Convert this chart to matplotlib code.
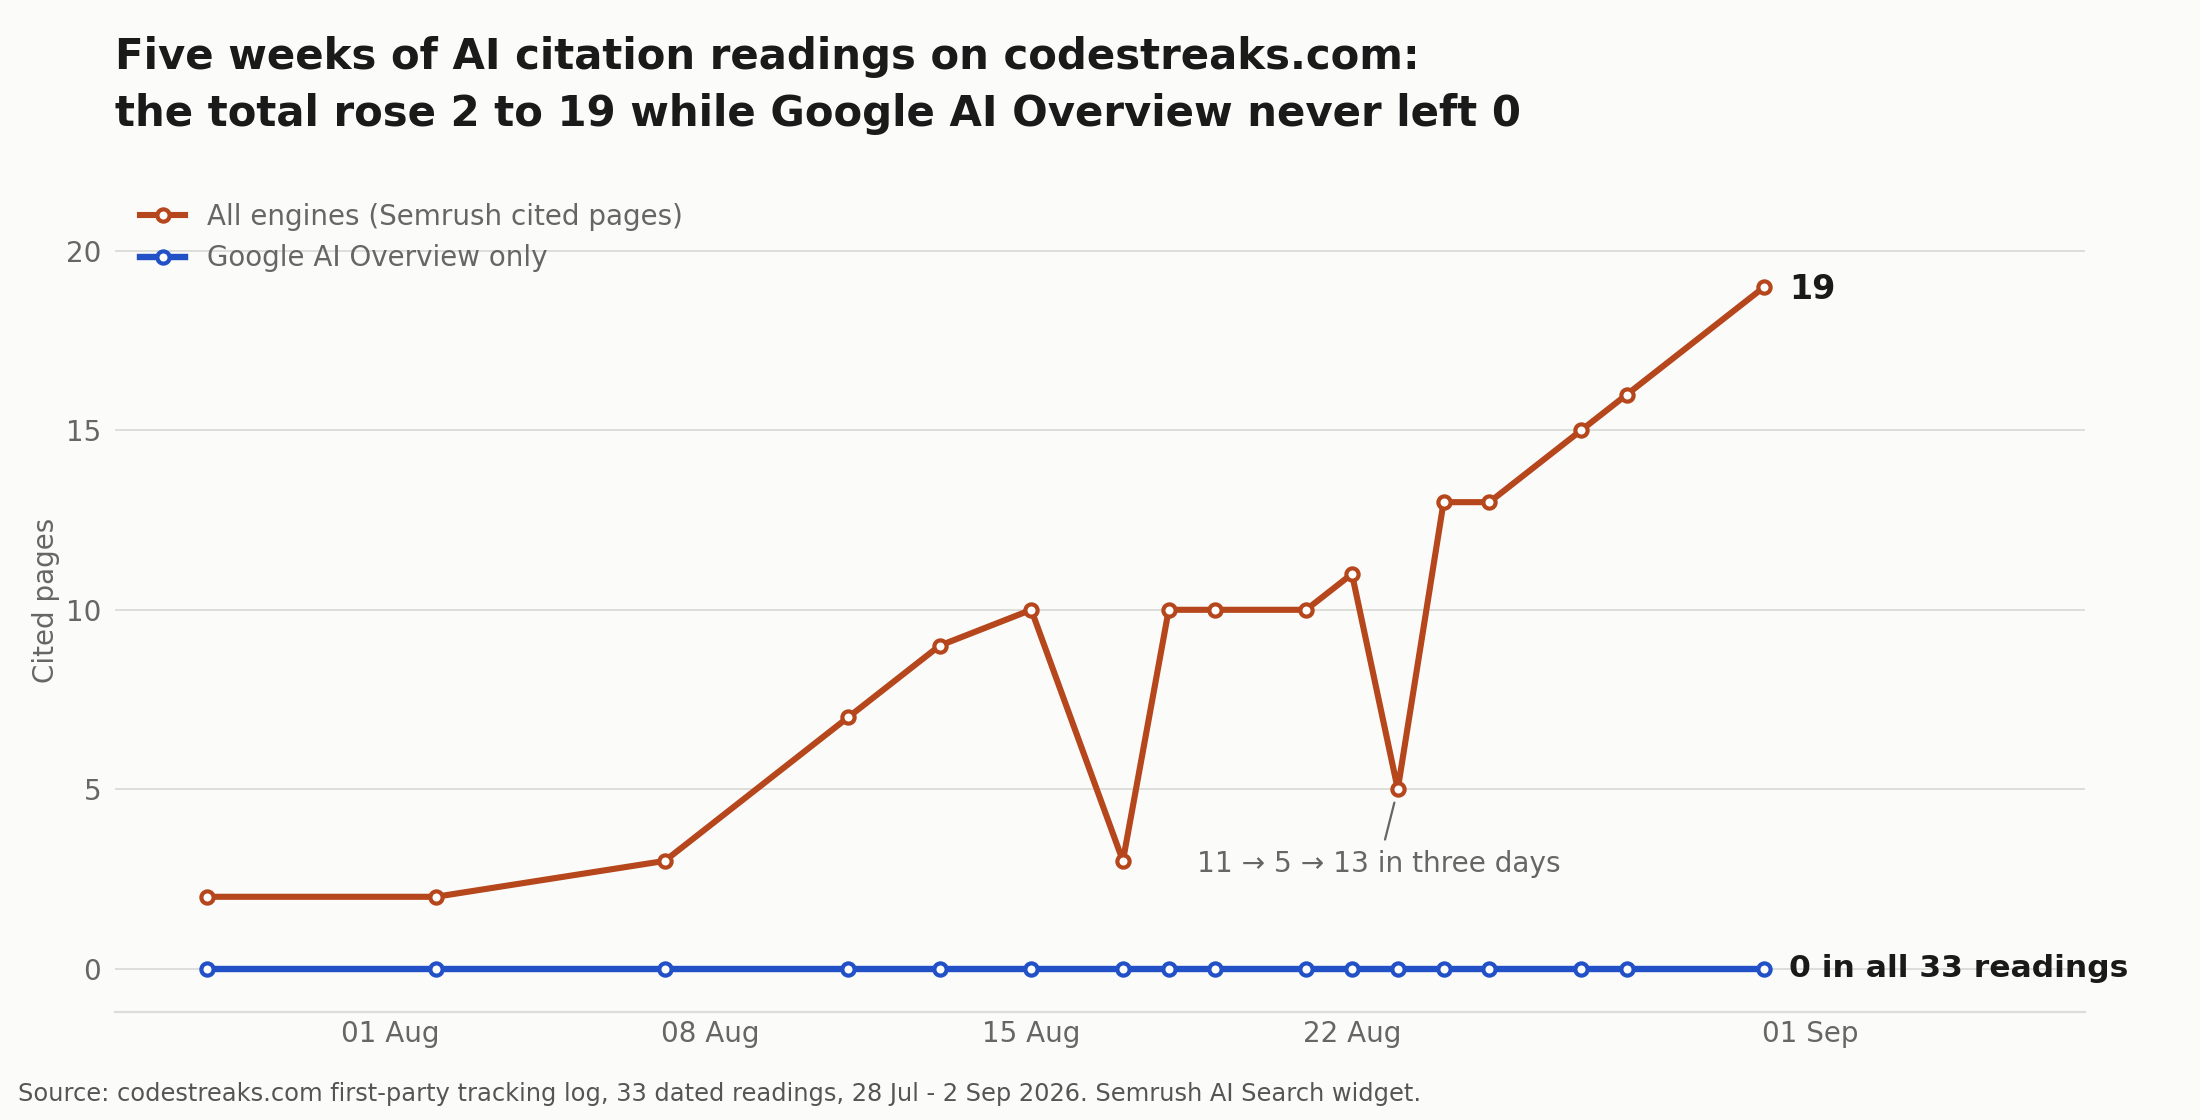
import matplotlib
matplotlib.use("Agg")
import matplotlib.pyplot as plt
import matplotlib.dates as mdates
import numpy as np
import pandas as pd

# readings (one point per dated reading day)
dates = pd.to_datetime([
    "2026-07-28", "2026-08-02", "2026-08-07", "2026-08-11", "2026-08-13",
    "2026-08-15", "2026-08-17", "2026-08-18", "2026-08-19", "2026-08-21",
    "2026-08-22", "2026-08-23", "2026-08-24", "2026-08-25", "2026-08-27",
    "2026-08-28", "2026-08-31",
])
all_engines = [2, 2, 3, 7, 9, 10, 3, 10, 10, 10, 11, 5, 13, 13, 15, 16, 19]
google_aio = [0] * len(dates)

series_labels = ["All engines (Semrush cited pages)", "Google AI Overview only"]
y_ticks = [0, 5, 10, 15, 20]

ORANGE = "#B6461B"
BLUE = "#2250C6"
BG = "#FBFBFA"
GRAY = "#666666"

plt.rcParams['font.family'] = ['DejaVu Sans']

fig = plt.figure(figsize=(11, 5.6), dpi=200, facecolor=BG)
ax = fig.add_axes([0.0523, 0.0968, 0.8954, 0.7335])
ax.set_facecolor(BG)

ax.plot(dates, all_engines, color=ORANGE, lw=2.2, marker="o", ms=4.4,
        mfc="white", mec=ORANGE, mew=1.5, label=series_labels[0], zorder=3)
ax.plot(dates, google_aio, color=BLUE, lw=2.3, marker="o", ms=4.4,
        mfc="white", mec=BLUE, mew=1.5, label=series_labels[1], zorder=3)

ax.set_ylim(-1.2, 21.7)
ax.set_xlim(pd.Timestamp("2026-07-26"), pd.Timestamp("2026-09-07"))
ax.set_yticks(y_ticks)
ax.xaxis.set_major_locator(mdates.DayLocator(bymonthday=[1, 8, 15, 22]))
ax.xaxis.set_major_formatter(mdates.DateFormatter("%d %b"))

ax.grid(axis="y", color="#DDDDDA", lw=0.7)
ax.grid(axis="x", visible=False)
ax.set_axisbelow(True)
for s in ["top", "right", "left"]:
    ax.spines[s].set_visible(False)
ax.spines["bottom"].set_color("#DDDDDA")
ax.spines["bottom"].set_linewidth(0.8)
ax.tick_params(length=0, labelsize=10, colors=GRAY, pad=5)
ax.tick_params(axis="x", pad=3)
ax.set_ylabel("Cited pages", fontsize=10, color=GRAY, labelpad=2)

# end labels
ax.annotate(str(all_engines[-1]), (dates[-1], all_engines[-1]), xytext=(9, -1),
            textcoords="offset points", va="center", ha="left",
            fontsize=12, fontweight="bold", color="#1A1A1A")
ax.annotate("0 in all 33 readings", (dates[-1], google_aio[-1]), xytext=(9, 0),
            textcoords="offset points", va="center", ha="left",
            fontsize=11.3, fontweight="bold", color="#1A1A1A")

# dip callout
dip = int(np.argmin(all_engines[8:])) + 8
ax.annotate("11 → 5 → 13 in three days", (dates[dip], all_engines[dip]),
            xytext=(pd.Timestamp("2026-08-22 14:00"), 2.9),
            ha="center", va="center", fontsize=10.1, color=GRAY,
            arrowprops=dict(arrowstyle="-", color=GRAY, lw=0.8,
                            shrinkA=2, shrinkB=5))

ax.legend(loc="upper left", bbox_to_anchor=(0.0065, 1.0), frameon=False,
          fontsize=10, labelcolor=GRAY, labelspacing=0.5,
          handlelength=1.6, borderaxespad=0.15, borderpad=0.3)

fig.text(0.0523, 1 - 36 / 1120,
         "Five weeks of AI citation readings on codestreaks.com:\n"
         "the total rose 2 to 19 while Google AI Overview never left 0",
         ha="left", va="top", fontsize=15.1, fontweight="bold",
         color="#1A1A1A", linespacing=1.44)
fig.text(0.008, 1 - 1094 / 1120,
         "Source: codestreaks.com first-party tracking log, 33 dated readings, "
         "28 Jul - 2 Sep 2026. Semrush AI Search widget.",
         ha="left", va="center", fontsize=8.68, color="#555555")

fig.savefig("out.png", dpi=200, facecolor=BG)
